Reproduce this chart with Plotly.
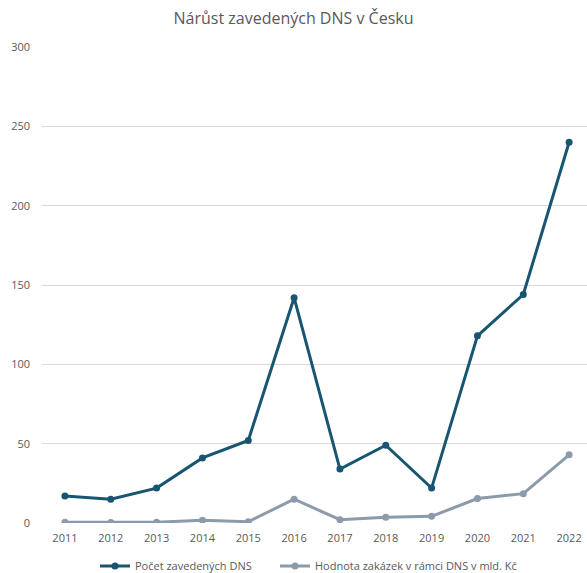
import plotly.graph_objects as go

years = [2011, 2012, 2013, 2014, 2015, 2016, 2017, 2018, 2019, 2020, 2021, 2022]
pocet_dns = [17, 15, 22, 41, 52, 142, 34, 49, 22, 118, 144, 240]
hodnota_zakazek = [0.5, 0.3, 0.5, 1.7, 0.8, 15, 2.1, 3.6, 4.2, 15.4, 18.5, 43]
y_ticks = [0, 50, 100, 150, 200, 250, 300]

dark = "#185571"
gray = "#8b9baa"
txt = "#595959"

H = 590  # extra room so the legend does not push the plot margins; page is clipped at 573
PLOT_H = 476

fig = go.Figure()
fig.add_trace(go.Scatter(x=years, y=pocet_dns, mode="lines+markers",
                         name="Počet zavedených DNS", legend="legend",
                         line=dict(color=dark, width=3),
                         marker=dict(color=dark, size=7)))
fig.add_trace(go.Scatter(x=years, y=hodnota_zakazek, mode="lines+markers",
                         name="Hodnota zakázek v rámci DNS v mld. Kč", legend="legend2",
                         line=dict(color=gray, width=3),
                         marker=dict(color=gray, size=7)))

leg_y = (523 - 566) / PLOT_H
fig.update_layout(
    width=587, height=H,
    margin=dict(l=42, r=0, t=47, b=H - 47 - PLOT_H),
    paper_bgcolor="white", plot_bgcolor="white",
    font=dict(family="Open Sans, Liberation Sans, sans-serif", color=txt, size=11),
    title=dict(text="Nárůst zavedených DNS v Česku", x=0.5, xanchor="center",
               y=1 - 18 / H, yanchor="middle",
               font=dict(size=16, color=txt)),
    showlegend=True,
    legend=dict(orientation="h", x=(95 - 42) / 545, xanchor="left", y=leg_y, yanchor="middle",
                font=dict(size=11, color=txt), itemwidth=30),
    legend2=dict(orientation="h", x=(275 - 42) / 545, xanchor="left", y=leg_y, yanchor="middle",
                 font=dict(size=11, color=txt), itemwidth=30),
)
fig.update_xaxes(range=[2010.5, 2022.39], tickvals=years, ticktext=[str(y) for y in years],
                 showgrid=False, zeroline=False, showline=False,
                 ticks="", ticklabelstandoff=7, tickfont=dict(size=11, color=txt))
fig.update_yaxes(range=[0, 300], tickvals=y_ticks, showgrid=True, gridcolor="#d9d9d9",
                 gridwidth=1, zeroline=False, showline=False, ticks="",
                 ticklabelstandoff=11, tickfont=dict(size=11, color=txt))

fig.write_html("out.html", config={"displayModeBar": False},
               post_script="document.body.style.margin='0';document.body.style.overflow='hidden';")
